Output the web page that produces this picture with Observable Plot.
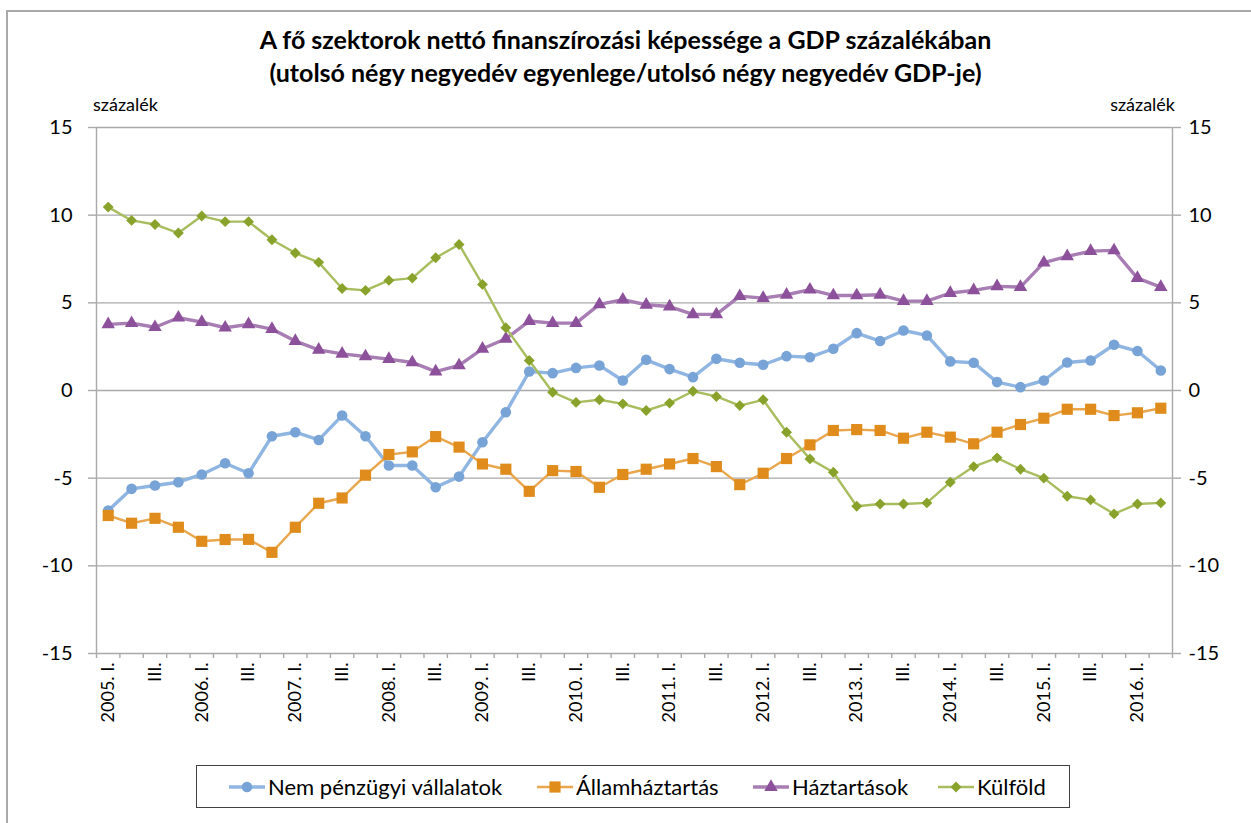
<!DOCTYPE html>
<html>
<head>
<meta charset="utf-8">
<script src="https://cdn.jsdelivr.net/npm/d3@7"></script>
<script src="https://cdn.jsdelivr.net/npm/@observablehq/plot@0.6"></script>
<style>
  body { margin: 0; background: #fff; font-family: Lato, "Open Sans", sans-serif; color: #000; }
  #wrap { position: relative; width: 1251px; height: 823px; overflow: hidden; background: #fff; }
  #frame { position: absolute; left: 6px; top: 10px; width: 1400px; height: 1000px; border-left: 2px solid #a9a9a9; border-top: 2px solid #a9a9a9; }
  #chart { position: absolute; left: 0; top: 0; }
  .title { position: absolute; left: 0; width: 1251px; text-align: center; font-weight: bold; font-size: 25px; line-height: 1; white-space: nowrap; }
  .unit { position: absolute; font-size: 18px; line-height: 1; }
  #legend { position: absolute; left: 196px; top: 765px; width: 874px; height: 43px; border: 1.5px solid #404040; box-sizing: border-box; }
  .item { position: absolute; top: 0; height: 100%; display: flex; align-items: center; font-size: 22px; white-space: nowrap; }
  .item svg { margin-right: 3px; }
</style>
</head>
<body>
<div id="wrap">
  <div id="frame"></div>
  <div id="chart"></div>
  <div class="title" style="top:27px">A fő szektorok nettó finanszírozási képessége a GDP százalékában</div>
  <div class="title" style="top:60px">(utolsó négy negyedév egyenlege/utolsó négy negyedév GDP-je)</div>
  <div class="unit" style="left:93px; top:95px">százalék</div>
  <div class="unit" style="right:76px; top:95px">százalék</div>
  <div id="legend"></div>
</div>
<script>
// Categories (quarters 2005 Q1 – 2016 Q2)
const categories = [
  "2005. I.","II.","III.","IV.",
  "2006. I.","II.","III.","IV.",
  "2007. I.","II.","III.","IV.",
  "2008. I.","II.","III.","IV.",
  "2009. I.","II.","III.","IV.",
  "2010. I.","II.","III.","IV.",
  "2011. I.","II.","III.","IV.",
  "2012. I.","II.","III.","IV.",
  "2013. I.","II.","III.","IV.",
  "2014. I.","II.","III.","IV.",
  "2015. I.","II.","III.","IV.",
  "2016. I.","II."
];

const nemPenzugyi = [-6.85,-5.61,-5.42,-5.23,-4.79,-4.15,-4.72,-2.61,-2.38,-2.82,-1.43,-2.61,-4.28,-4.28,-5.52,-4.91,
  -2.95,-1.24,1.08,0.99,1.29,1.43,0.57,1.75,1.22,0.76,1.81,1.58,1.47,1.96,1.90,
  2.38,3.27,2.82,3.42,3.14,1.66,1.58,0.48,0.19,0.57,1.60,1.71,2.61,2.25,1.14];

const allamhaztartas = [-7.13,-7.57,-7.29,-7.80,-8.60,-8.50,-8.49,-9.23,-7.80,-6.43,-6.13,-4.83,-3.65,-3.50,-2.63,-3.23,
  -4.19,-4.49,-5.75,-4.57,-4.62,-5.52,-4.79,-4.49,-4.19,-3.88,-4.34,-5.37,-4.72,-3.88,-3.10,
  -2.28,-2.23,-2.28,-2.72,-2.38,-2.66,-3.04,-2.38,-1.94,-1.58,-1.07,-1.07,-1.43,-1.27,-1.01];

const haztartasok = [3.77,3.84,3.61,4.15,3.90,3.58,3.77,3.50,2.82,2.32,2.09,1.94,1.79,1.60,1.08,1.43,
  2.38,2.95,3.96,3.84,3.84,4.91,5.18,4.89,4.79,4.34,4.34,5.38,5.27,5.46,5.75,
  5.42,5.42,5.46,5.10,5.10,5.56,5.71,5.94,5.90,7.29,7.65,7.95,7.99,6.41,5.90];

const kulfold = [10.46,9.70,9.47,8.98,9.95,9.63,9.63,8.60,7.84,7.31,5.82,5.71,6.28,6.41,7.57,8.33,
  6.05,3.58,1.71,-0.10,-0.68,-0.53,-0.76,-1.14,-0.72,-0.04,-0.34,-0.86,-0.53,-2.38,-3.90,
  -4.66,-6.60,-6.47,-6.47,-6.41,-5.23,-4.34,-3.84,-4.49,-5.00,-6.03,-6.24,-7.04,-6.47,-6.41];

const seriesNames = ["Nem pénzügyi vállalatok", "Államháztartás", "Háztartások", "Külföld"];
const yTicks = [-15, -10, -5, 0, 5, 10, 15];

// styles
const seriesStyle = [
  {values: nemPenzugyi,   symbol: "circle",   r: 5.3, marker: "#77a3d6", line: "#8fb5e2", width: 3.4},
  {values: allamhaztartas, symbol: "square",   r: 6.3, marker: "#df8c1d", line: "#e9a64d", width: 2.4},
  {values: haztartasok,   symbol: "triangle", r: 5.0, marker: "#8c519a", line: "#a77db3", width: 3.4},
  {values: kulfold,       symbol: "diamond2", r: 4.9, marker: "#88a22b", line: "#a8bd5e", width: 2.4}
];

const n = categories.length;
const grid = "#a9a9a9";

const seriesMarks = seriesStyle.flatMap((s, k) => {
  const rows = s.values.map((v, i) => ({i, v, name: seriesNames[k]}));
  return [
    Plot.line(rows, {x: "i", y: "v", stroke: s.line, strokeWidth: s.width, strokeLinejoin: "round"}),
    Plot.dot(rows, {x: "i", y: "v", symbol: s.symbol, r: s.r, fill: s.marker, stroke: "none"})
  ];
});

const chart = Plot.plot({
  width: 1251,
  height: 823,
  marginLeft: 96,
  marginRight: 79,
  marginTop: 127,
  marginBottom: 170,
  style: {fontFamily: "Lato, 'Open Sans', sans-serif", color: "#000", background: "transparent"},
  x: {type: "linear", domain: [-0.5, n - 0.5]},
  y: {type: "linear", domain: [yTicks[0], yTicks[yTicks.length - 1]]},
  marks: [
    Plot.gridY(yTicks, {stroke: grid, strokeOpacity: 1, strokeWidth: 1.4}),
    Plot.ruleX([-0.5, n - 0.5], {stroke: grid, strokeWidth: 1.4}),
    Plot.axisY(yTicks, {anchor: "left", tickSize: 8, tickPadding: 16, fontSize: 20, stroke: grid, strokeWidth: 1.4, label: null, tickFormat: d => String(d)}),
    Plot.axisY(yTicks, {anchor: "right", tickSize: 8, tickPadding: 8, fontSize: 20, stroke: grid, strokeWidth: 1.4, label: null, tickFormat: d => String(d)}),
    Plot.axisX(d3.range(-0.5, n, 1), {anchor: "bottom", tickSize: 5, tickFormat: () => "", stroke: grid, strokeWidth: 1.4, label: null}),
    Plot.axisX(d3.range(0, n, 2), {anchor: "bottom", tickSize: 0, tickPadding: 9, tickRotate: -90, fontSize: 18, tickFormat: i => categories[i], label: null}),
    ...seriesMarks
  ]
});
document.getElementById("chart").appendChild(chart);

// legend
const legendLeft = [32, 340, 556, 741];
const legend = document.getElementById("legend");
seriesStyle.forEach((s, k) => {
  const item = document.createElement("div");
  item.className = "item";
  item.style.left = legendLeft[k] + "px";
  const svg = d3.create("svg").attr("width", 36).attr("height", 16);
  svg.append("line").attr("x1", 0).attr("x2", 36).attr("y1", 8).attr("y2", 8)
    .attr("stroke", s.line).attr("stroke-width", s.width);
  const sym = {circle: d3.symbolCircle, square: d3.symbolSquare, triangle: d3.symbolTriangle, diamond2: d3.symbolDiamond2}[s.symbol];
  svg.append("path").attr("transform", "translate(18,8)")
    .attr("d", d3.symbol(sym, Math.PI * s.r * s.r)()).attr("fill", s.marker);
  item.appendChild(svg.node());
  const span = document.createElement("span");
  span.textContent = seriesNames[k];
  item.appendChild(span);
  legend.appendChild(item);
});
</script>
</body>
</html>
